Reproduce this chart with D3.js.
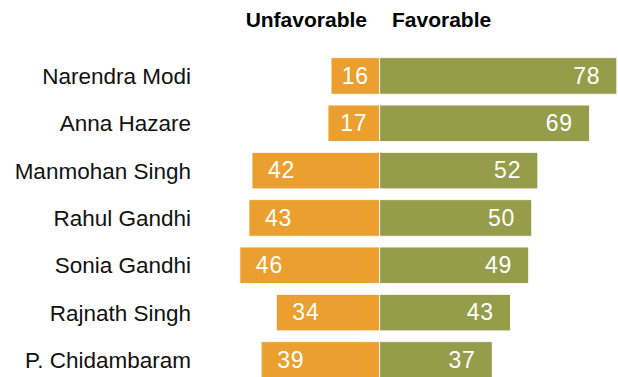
<!DOCTYPE html>
<html>
<head>
<meta charset="utf-8">
<script src="https://cdn.jsdelivr.net/npm/d3@7"></script>
<style>
  body { margin: 0; background: #fff; }
  svg { display: block; }
</style>
</head>
<body>
<figure id="diverging" style="margin:0"></figure>
<script>
const names = ["Narendra Modi", "Anna Hazare", "Manmohan Singh", "Rahul Gandhi",
  "Sonia Gandhi", "Rajnath Singh", "P. Chidambaram"];
const unfavorable = [16, 17, 42, 43, 46, 34, 39];
const favorable = [78, 69, 52, 50, 49, 43, 37];
const headers = ["Unfavorable", "Favorable"];

const width = 618, height = 377;
const orange = "#EA9F2E", olive = "#959D4A";

const svg = d3.select("figure#diverging")
  .append("svg")
  .attr("width", width)
  .attr("height", height);

// x: 0 sits at the divider, 1 point ~3.04px
const x = d3.scaleLinear()
  .domain([-50, 80])
  .range([227.7, 622.9]);

const y = d3.scaleBand()
  .domain(names)
  .range([57.7, 378.2])
  .paddingInner(0.229)
  .paddingOuter(0);

const rows = names.map((n, i) => ({ name: n, unfav: unfavorable[i], fav: favorable[i] }));

// headers
svg.append("text")
  .attr("x", 367).attr("y", 26.7)
  .attr("text-anchor", "end")
  .style("font", "bold 21px 'Liberation Sans', Arial, sans-serif")
  .text(headers[0]);
svg.append("text")
  .attr("x", 392).attr("y", 26.7)
  .style("font", "bold 21px 'Liberation Sans', Arial, sans-serif")
  .text(headers[1]);

const g = svg.selectAll("g.row")
  .data(rows)
  .enter().append("g")
  .attr("class", "row")
  .attr("transform", d => `translate(0,${y(d.name)})`);

const bw = y.bandwidth();

g.append("text")
  .attr("x", 191)
  .attr("y", bw / 2)
  .attr("dy", "0.36em")
  .attr("text-anchor", "end")
  .style("font", "22.5px 'Liberation Sans', Arial, sans-serif")
  .style("fill", "#111")
  .text(d => d.name);

g.append("rect")
  .attr("x", d => x(-d.unfav))
  .attr("width", d => x(0) - x(-d.unfav))
  .attr("height", bw)
  .attr("fill", orange)
  .attr("stroke", "#fff").attr("stroke-width", 0.8);

g.append("rect")
  .attr("x", x(0))
  .attr("width", d => x(d.fav) - x(0))
  .attr("height", bw)
  .attr("fill", olive)
  .attr("stroke", "#fff").attr("stroke-width", 0.8);

const numFont = "23px 'Liberation Sans', Arial, sans-serif";

// unfavorable values: inset from the bar's left end, centred on short bars
g.append("text")
  .attr("x", d => {
    const w = x(0) - x(-d.unfav);
    return w < 60 ? x(-d.unfav) + w / 2 : x(-d.unfav) + 16;
  })
  .attr("text-anchor", d => (x(0) - x(-d.unfav)) < 60 ? "middle" : "start")
  .attr("y", bw / 2)
  .attr("dy", "0.33em")
  .style("font", numFont)
  .style("letter-spacing", "0.8px")
  .style("fill", "#fff")
  .text(d => d.unfav);

g.append("text")
  .attr("x", d => x(d.fav) - 16.5)
  .attr("text-anchor", "end")
  .attr("y", bw / 2)
  .attr("dy", "0.33em")
  .style("font", numFont)
  .style("letter-spacing", "0.8px")
  .style("fill", "#fff")
  .text(d => d.fav);
</script>
</body>
</html>
